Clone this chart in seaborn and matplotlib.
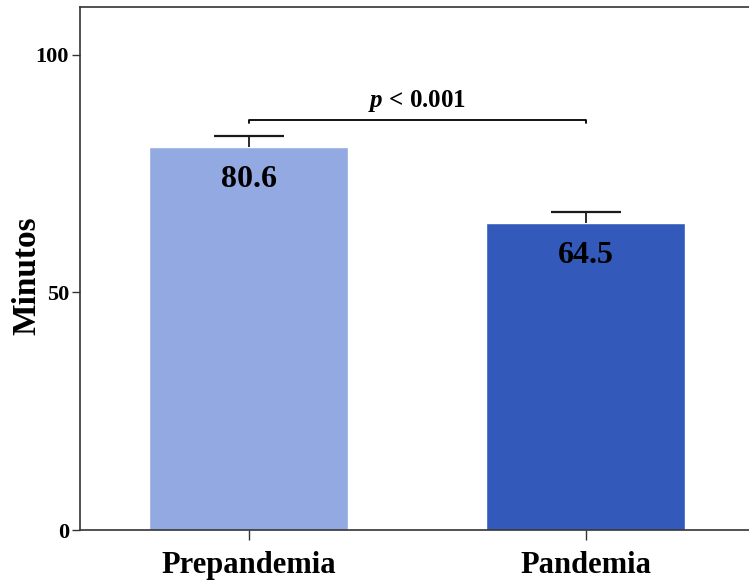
import matplotlib
matplotlib.use("Agg")
import matplotlib.pyplot as plt
import seaborn as sns
import pandas as pd

# Mean minutes per period with upper error (SE)
periods = ["Prepandemia", "Pandemia"]
minutes = [80.6, 64.5]
errors = [2.3, 2.4]
bar_colors = ["#93A9E2", "#3359BB"]
y_ticks = [0, 50, 100]
p_label = r"$p$ < 0.001"
y_label = "Minutos"

sns.set_theme(style="white")
plt.rcParams["font.family"] = ["Liberation Serif", "DejaVu Serif"]
plt.rcParams["mathtext.fontset"] = "custom"
plt.rcParams["mathtext.it"] = "Liberation Serif:italic:bold"
plt.rcParams["mathtext.rm"] = "Liberation Serif:bold"
for key in ["text.color", "axes.labelcolor", "xtick.color", "ytick.color"]:
    plt.rcParams[key] = "black"

df = pd.DataFrame({"periodo": periods, "minutos": minutes})

fig = plt.figure(figsize=(7.49, 5.88), dpi=100)
ax = fig.add_axes([80 / 749, 58 / 588, 674 / 749, 523 / 588])

sns.barplot(data=df, x="periodo", y="minutos", hue="periodo",
            palette=bar_colors, order=periods, hue_order=periods,
            width=0.59, errorbar=None, legend=False, saturation=1, ax=ax)

# one-sided (upper) error bars
xs = list(range(len(periods)))
_, caps, _ = ax.errorbar(xs, minutes, yerr=[[0] * len(errors), errors],
                         fmt="none", ecolor="#1a1a1a", elinewidth=1.3,
                         capsize=25, capthick=1.6)
caps[0].set_visible(False)  # hide the lower cap sitting on the bar top
caps[1].set_color("#444444")

# value labels inside the bars
for x, v in zip(xs, minutes):
    ax.text(x, v - 6.8, f"{v}", ha="center", va="center",
            fontsize=23, fontweight="bold", color="black")

# significance bracket
yb = 86.3
ax.plot([0, 0, 1, 1], [yb - 0.7, yb, yb, yb - 0.7], color="black", lw=1.3)
ax.text(0.5, yb + 2.6, p_label, ha="center", va="baseline",
        fontsize=18, fontweight="bold")

ax.set_xlim(-0.5, 1.5)
ax.set_ylim(0, 110)
ax.set_yticks(y_ticks)
ax.set_yticklabels([str(t) for t in y_ticks], fontsize=16, fontweight="bold")
ax.set_xticks(xs)
ax.set_xticklabels(periods, fontsize=22, fontweight="bold")
ax.set_xlabel("")
ax.set_ylabel(y_label, fontsize=24, fontweight="bold")
ax.yaxis.set_label_coords(-0.056, 0.486)

for s in ["left", "top", "bottom"]:
    ax.spines[s].set_visible(True)
    ax.spines[s].set_color("#333333")
    ax.spines[s].set_linewidth(1.2)
ax.spines["right"].set_visible(False)
ax.tick_params(axis="y", direction="out", length=6, width=1, color="#333333",
               left=True, pad=2)
ax.tick_params(axis="x", direction="out", length=7, width=1, color="#333333",
               bottom=True, pad=8)

fig.savefig("out.png", dpi=100)
